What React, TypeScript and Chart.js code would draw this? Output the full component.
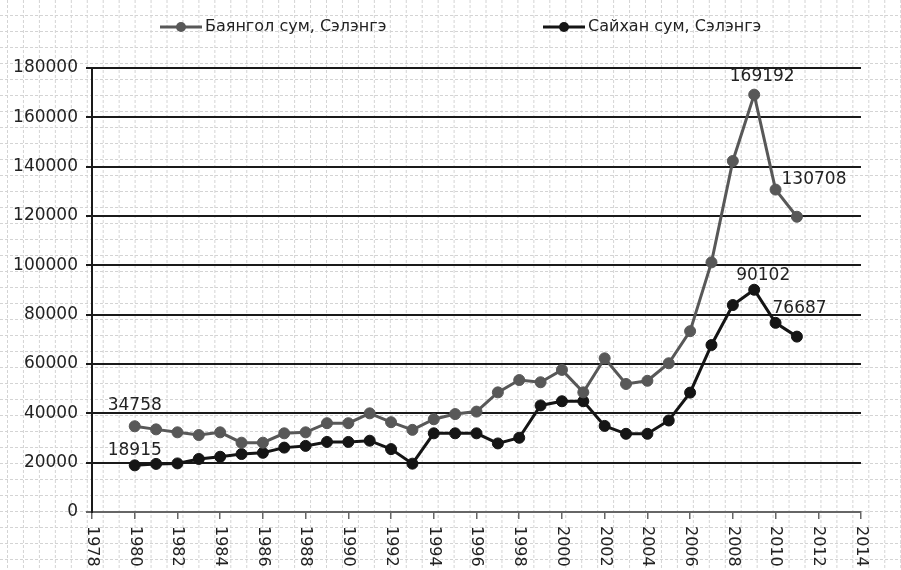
import React, { useEffect, useRef } from 'react';
import { Chart, registerables } from 'chart.js';

Chart.register(...registerables);

const years = [
  1980, 1981, 1982, 1983, 1984, 1985, 1986, 1987, 1988, 1989, 1990, 1991, 1992, 1993, 1994, 1995,
  1996, 1997, 1998, 1999, 2000, 2001, 2002, 2003, 2004, 2005, 2006, 2007, 2008, 2009, 2010, 2011,
];
const bayangol = [
  34758, 33500, 32300, 31200, 32300, 28100, 28100, 31900, 32300, 36000, 36000, 40000, 36400, 33300, 37600, 39700,
  40700, 48500, 53500, 52600, 57600, 48500, 62300, 51900, 53200, 60300, 73300, 101200, 142300, 169192, 130708, 119700,
];
const saikhan = [
  18915, 19500, 19700, 21500, 22400, 23500, 24000, 26100, 26800, 28400, 28400, 28900, 25500, 19600, 31900, 31900,
  31900, 27800, 30100, 43200, 44900, 44900, 34900, 31700, 31700, 37100, 48400, 67700, 83900, 90102, 76687, 71100,
];
const seriesNames = ['Баянгол сум, Сэлэнгэ', 'Сайхан сум, Сэлэнгэ'];
const yTicks = [0, 20000, 40000, 60000, 80000, 100000, 120000, 140000, 160000, 180000];
const xTickYears = [1978, 1980, 1982, 1984, 1986, 1988, 1990, 1992, 1994, 1996, 1998, 2000, 2002, 2004, 2006, 2008, 2010, 2012, 2014];
// indices of labelled points per series
const bayangolLabelled = [0, 29, 30];
const saikhanLabelled = [0, 29, 30];

const GRAY = '#585858';
const BLACK = '#151515';
const NUM_FONT = '"DejaVu Sans", sans-serif';

// label placement styles: [dx, dy, align]
const labelStyle: Record<string, [number, number, CanvasTextAlign]> = {
  '0-0': [0, -21, 'center'],
  '0-29': [8, -18, 'center'],
  '0-30': [6, -10, 'left'],
  '1-0': [0, -15, 'center'],
  '1-29': [9, -14, 'center'],
  '1-30': [-3, -14, 'left'],
};

const paperPlugin = {
  id: 'paper',
  beforeDraw(chart: any) {
    const { ctx, width, height } = chart;
    ctx.save();
    ctx.fillStyle = '#ffffff';
    ctx.fillRect(0, 0, width, height);
    ctx.strokeStyle = '#d4d4d4';
    ctx.lineWidth = 1;
    ctx.setLineDash([3, 2]);
    ctx.beginPath();
    for (let x = 7.5; x < width; x += 15.95) {
      ctx.moveTo(x, 0);
      ctx.lineTo(x, height);
    }
    for (let y = 15.5; y < height; y += 16) {
      ctx.moveTo(0, y);
      ctx.lineTo(width, y);
    }
    ctx.stroke();
    ctx.restore();
  },
};

const overlayPlugin = {
  id: 'overlay',
  afterDraw(chart: any) {
    const ctx = chart.ctx;
    const sx = chart.scales.x;
    ctx.save();
    // rotated x tick labels
    ctx.font = `16px ${NUM_FONT}`;
    ctx.fillStyle = '#222';
    ctx.textAlign = 'left';
    ctx.textBaseline = 'middle';
    sx.ticks.forEach((t: any) => {
      const x = sx.getPixelForValue(t.value);
      ctx.save();
      ctx.translate(x, sx.top + 14);
      ctx.rotate(Math.PI / 2);
      ctx.fillText(String(t.value), 0, 0);
      ctx.restore();
    });

    // data labels
    ctx.font = `17px ${NUM_FONT}`;
    ctx.fillStyle = '#222';
    const lab = [bayangolLabelled, saikhanLabelled];
    chart.data.datasets.forEach((ds: any, di: number) => {
      const meta = chart.getDatasetMeta(di);
      lab[di].forEach((i) => {
        const pt = meta.data[i];
        const v = ds.data[i].y;
        const [dx, dy, align] = labelStyle[`${di}-${i}`];
        ctx.textAlign = align;
        ctx.textBaseline = 'middle';
        ctx.fillText(String(v), pt.x + dx, pt.y + dy);
      });
    });

    // legend
    ctx.font = `16px ${NUM_FONT}`;
    ctx.textAlign = 'left';
    ctx.textBaseline = 'middle';
    const legendX = [160, 543];
    const ly = 27;
    chart.data.datasets.forEach((ds: any, di: number) => {
      const x0 = legendX[di];
      ctx.strokeStyle = ds.borderColor;
      ctx.lineWidth = 3;
      ctx.beginPath();
      ctx.moveTo(x0, ly);
      ctx.lineTo(x0 + 42, ly);
      ctx.stroke();
      ctx.fillStyle = ds.pointBackgroundColor;
      ctx.beginPath();
      ctx.arc(x0 + 21, ly, 5, 0, Math.PI * 2);
      ctx.fill();
      ctx.fillStyle = '#222';
      ctx.fillText(ds.label, x0 + 45, ly);
    });
    ctx.restore();
  },
};

export default function App() {
  const ref = useRef<HTMLCanvasElement | null>(null);
  useEffect(() => {
    if (!ref.current) return;
    const chart = new Chart(ref.current, {
      type: 'line',
      data: {
        datasets: [
          {
            label: seriesNames[0],
            data: years.map((y, i) => ({ x: y, y: bayangol[i] })),
            borderColor: GRAY,
            backgroundColor: GRAY,
            pointBackgroundColor: GRAY,
            pointBorderColor: GRAY,
            borderWidth: 3,
            pointRadius: 5.5,
            pointBorderWidth: 1,
            tension: 0,
          },
          {
            label: seriesNames[1],
            data: years.map((y, i) => ({ x: y, y: saikhan[i] })),
            borderColor: BLACK,
            backgroundColor: BLACK,
            pointBackgroundColor: BLACK,
            pointBorderColor: BLACK,
            borderWidth: 3,
            pointRadius: 5.5,
            pointBorderWidth: 1,
            tension: 0,
          },
        ],
      },
      options: {
        responsive: false,
        animation: false,
        layout: { padding: { top: 68, right: 40, left: 0, bottom: 0 } },
        plugins: { legend: { display: false }, tooltip: { enabled: false } },
        scales: {
          x: {
            type: 'linear',
            min: xTickYears[0],
            max: xTickYears[xTickYears.length - 1],
            afterBuildTicks: (s: any) => {
              s.ticks = xTickYears.map((v) => ({ value: v }));
            },
            ticks: { display: false, stepSize: 2 },
            grid: { drawOnChartArea: false, drawTicks: true, tickLength: 7, color: '#666', lineWidth: 1.5 },
            border: { color: '#666', width: 1.5 },
            afterFit: (s: any) => {
              s.height = 58;
            },
          },
          y: {
            min: yTicks[0],
            max: yTicks[yTicks.length - 1],
            afterBuildTicks: (s: any) => {
              s.ticks = yTicks.map((v) => ({ value: v }));
            },
            ticks: {
              callback: (v: any) => String(v),
              font: { family: NUM_FONT, size: 17 },
              color: '#222',
              padding: 8,
            },
            grid: {
              color: (c: any) => (c.tick && c.tick.value === 0 ? '#666' : '#1a1a1a'),
              lineWidth: 2,
              tickLength: 6,
            },
            border: { color: '#1a1a1a', width: 2 },
            afterFit: (s: any) => {
              s.width = 92;
            },
          },
        },
      } as any,
      plugins: [paperPlugin, overlayPlugin],
    });
    return () => chart.destroy();
  }, []);
  return (
    <div style={{ position: 'fixed', left: 0, top: 0, width: 901, height: 570, background: '#fff' }}>
      <canvas ref={ref} width={901} height={570} style={{ display: 'block', width: 901, height: 570 }} />
    </div>
  );
}
